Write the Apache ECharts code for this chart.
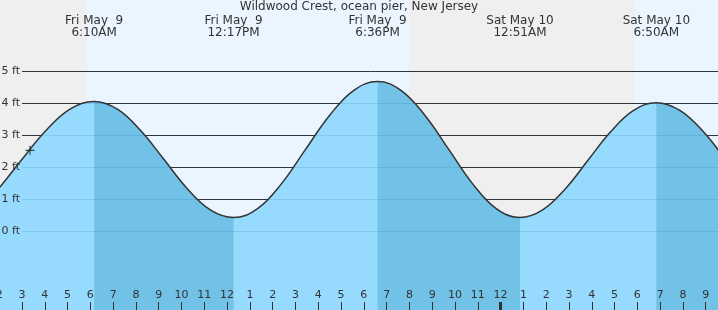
<!DOCTYPE html>
<html><head><meta charset="utf-8">
<script src="https://cdn.jsdelivr.net/npm/echarts@6/dist/echarts.min.js"></script>
<style>html,body{margin:0;padding:0;background:#fff}#c{width:718px;height:310px}</style>
</head><body><div id="c"></div>
<script>
// hours since Fri May 9, 00:00 ; tide height in ft
const hours   = [-0.3, 0.778, 1.856, 2.933, 4.011, 5.089, 6.167, 7.186, 8.205, 9.225, 10.244, 11.264, 12.283, 13.336, 14.389, 15.442, 16.494, 17.547, 18.6, 19.642, 20.683, 21.725, 22.767, 23.808, 24.85, 25.847, 26.844, 27.842, 28.839, 29.836, 30.833, 31.867, 32.9, 33.933, 34.967];
const heights = [0.30, 0.55, 1.24, 2.18, 3.11, 3.80, 4.05, 3.81, 3.14, 2.24, 1.33, 0.66, 0.42, 0.70, 1.48, 2.55, 3.61, 4.39, 4.67, 4.39, 3.61, 2.55, 1.48, 0.70, 0.42, 0.66, 1.32, 2.22, 3.11, 3.77, 4.01, 3.77, 3.10, 2.18, 1.27];
// falling-tide intervals (high -> low)
const fallingStart = [6.167, 18.6, 30.833];
const fallingEnd   = [12.283, 24.85, 35];
// high / low labels
const tideTimes  = [6.1667, 12.2833, 18.6, 24.85, 30.8333];
const tideLabels = ['Fri May  9\n6:10AM', 'Fri May  9\n12:17PM', 'Fri May  9\n6:36PM', 'Sat May 10\n12:51AM', 'Sat May 10\n6:50AM'];
// daylight / night bands
const nightBands = [[2, 5.85], [19.98, 29.85]];
const dayBands   = [[5.85, 19.98], [29.85, 34]];
// current time marker
const nowPoint = [3.35, 2.52];
const midnight = [24];
const ftTicks = [0, 5];
const fullY = [-3, 8];
const xRange = [2, 34];

const FONT = 'DejaVu Sans';
const TXT = '#333';

function isFalling(h) {
  for (let i = 0; i < fallingStart.length; i++) {
    if (h >= fallingStart[i] - 1e-9 && h <= fallingEnd[i] + 1e-9) return true;
  }
  return false;
}
const pts = hours.map((h, i) => [h, heights[i]]);
const fallPts = hours.map((h, i) => isFalling(h) ? [h, heights[i]] : [h, null]);

const gL = -0.8, gR = -10.5, gT = -25, gB = -17;

const chart = echarts.init(document.getElementById('c'), null, {renderer: 'canvas'});
const hiddenX = (gi) => ({type: 'value', gridIndex: gi, min: xRange[0], max: xRange[1], interval: 1, show: false});

chart.setOption({
  animation: false,
  backgroundColor: '#fff',
  title: {text: 'Wildwood Crest, ocean pier, New Jersey', left: 'center', top: 1, padding: 0,
    textStyle: {fontFamily: FONT, fontSize: 12, fontWeight: 'normal', color: TXT}},
  grid: [
    {left: gL, right: gR, top: gT, bottom: gB, containLabel: false, outerBoundsMode: 'none'},
    {left: gL, right: gR, top: 0, bottom: 0, containLabel: false, outerBoundsMode: 'none'},
    {left: 22, right: gR, top: 71, bottom: 79, containLabel: false, outerBoundsMode: 'none'}
  ],
  xAxis: [
    hiddenX(0),
    {type: 'value', gridIndex: 1, min: xRange[0], max: xRange[1], interval: 1, position: 'bottom', z: 7,
      axisLine: {show: false, onZero: false}, splitLine: {show: false},
      axisTick: {show: true, inside: true, length: 8, lineStyle: {color: TXT, width: 1}},
      axisLabel: {show: true, inside: true, margin: 9, color: TXT, fontFamily: FONT, fontSize: 11,
        formatter: v => String((Math.round(v) % 12) || 12)}},
    {type: 'value', gridIndex: 1, min: xRange[0], max: xRange[1], position: 'top', z: 7,
      axisLine: {show: false, onZero: false}, splitLine: {show: false}, axisTick: {show: false},
      axisLabel: {show: true, inside: true, margin: 15, color: TXT, fontFamily: FONT, fontSize: 12, lineHeight: 12,
        customValues: tideTimes,
        formatter: v => { let k = 0, d = 1e9; tideTimes.forEach((t, i) => { if (Math.abs(t - v) < d) { d = Math.abs(t - v); k = i; } }); return tideLabels[k]; }}},
    {type: 'value', gridIndex: 1, min: xRange[0], max: xRange[1], interval: 1, position: 'bottom', z: 7,
      axisLine: {show: false, onZero: false}, splitLine: {show: false}, axisLabel: {show: false},
      axisTick: {show: true, inside: true, length: 8, customValues: midnight, lineStyle: {color: TXT, width: 3}}},
    hiddenX(2)
  ],
  yAxis: [
    {type: 'value', gridIndex: 0, min: fullY[0], max: fullY[1], interval: 1, show: false},
    {type: 'value', gridIndex: 1, min: fullY[0], max: fullY[1], interval: 1, show: false},
    {type: 'value', gridIndex: 2, position: 'left', min: ftTicks[0], max: ftTicks[1], interval: 1, z: 2,
      axisLine: {show: false, onZero: false}, axisTick: {show: false}, axisLabel: {show: false},
      splitLine: {show: true, lineStyle: {color: '#333', width: 1}}},
    {type: 'value', gridIndex: 2, position: 'left', min: ftTicks[0], max: ftTicks[1], interval: 1, z: 5,
      axisLine: {show: false, onZero: false}, axisTick: {show: false}, axisLabel: {show: false},
      splitLine: {show: true, lineStyle: {color: 'rgba(0,80,140,0.13)', width: 1}}},
    {type: 'value', gridIndex: 2, position: 'left', offset: 0, min: ftTicks[0], max: ftTicks[1], interval: 1, z: 7,
      axisLine: {show: false, onZero: false}, axisTick: {show: false}, splitLine: {show: false},
      axisLabel: {show: true, margin: 2, color: TXT, fontFamily: FONT, fontSize: 11,
        formatter: v => v + ' ft'}}
  ],
  series: [
    {type: 'line', name: 'bands', xAxisIndex: 0, yAxisIndex: 0, z: 1, data: pts, symbol: 'none',
      lineStyle: {opacity: 0}, silent: true,
      markArea: {silent: true, data: [
        ...dayBands.map(b => [{xAxis: b[0], itemStyle: {color: '#ebf5ff'}}, {xAxis: b[1]}]),
        ...nightBands.map(b => [{xAxis: b[0], itemStyle: {color: '#efefef'}}, {xAxis: b[1]}])
      ]}},
    {type: 'line', name: 'water', xAxisIndex: 0, yAxisIndex: 0, z: 3, data: pts, smooth: 0.4, symbol: 'none',
      lineStyle: {opacity: 0}, areaStyle: {color: '#96dbfd', opacity: 1, origin: 'start'}},
    {type: 'line', name: 'falling', xAxisIndex: 0, yAxisIndex: 0, z: 4, data: fallPts, smooth: 0.4, symbol: 'none',
      connectNulls: false, lineStyle: {opacity: 0}, areaStyle: {color: '#72c1e6', opacity: 1, origin: 'start'}},
    {type: 'line', name: 'curve', xAxisIndex: 0, yAxisIndex: 0, z: 6, data: pts, smooth: 0.4, symbol: 'none',
      lineStyle: {color: '#333', width: 1.5}},
    {type: 'scatter', name: 'now', xAxisIndex: 0, yAxisIndex: 0, z: 8, data: [nowPoint],
      symbol: 'path://M0,5L10,5M5,0L5,10', symbolSize: 9,
      itemStyle: {color: 'rgba(0,0,0,0)', borderColor: '#222', borderWidth: 1.2}}
  ]
});
</script></body></html>
